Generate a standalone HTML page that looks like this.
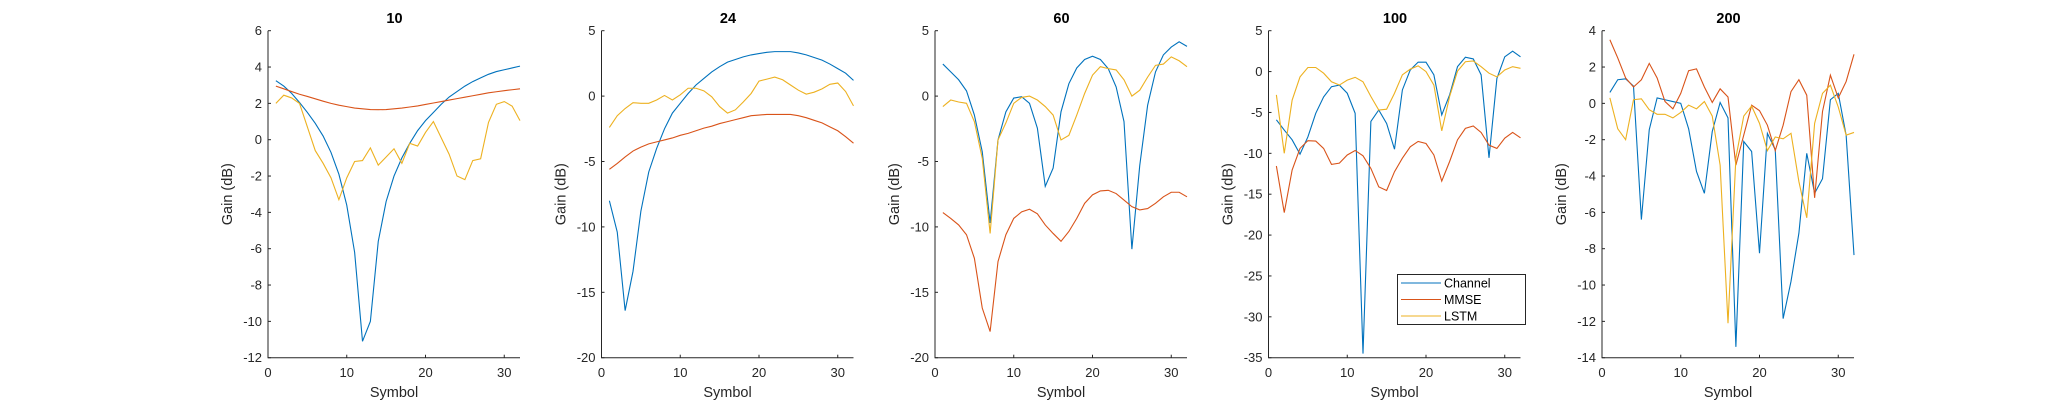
<!DOCTYPE html>
<html><head><meta charset="utf-8"><style>
body{margin:0;background:#fff;}
svg{display:block;font-family:"Liberation Sans",sans-serif;}
</style></head><body>
<svg id="chart" width="2050" height="402" viewBox="0 0 2050 402" xmlns="http://www.w3.org/2000/svg"></svg>
<script>
const symbols = Array.from({length:32},(_,i)=>i+1);
const titles = ["10","24","60","100","200"];
const yMins = [-12,-20,-20,-35,-14];
const yMaxs = [6,5,5,5,4];
const yStepTicks = [2,5,5,5,2];
const xTickLabels = [0,10,20,30];
const seriesNames = ["Channel","MMSE","LSTM"];
const ch10=[3.25,2.95,2.55,2.05,1.5,0.9,0.2,-0.7,-1.9,-3.6,-6.2,-11.1,-10.0,-5.6,-3.4,-2.0,-1.0,-0.2,0.5,1.05,1.5,1.95,2.35,2.65,2.95,3.2,3.4,3.6,3.75,3.85,3.95,4.05];
const mm10=[2.95,2.8,2.65,2.5,2.38,2.25,2.12,2.0,1.9,1.82,1.74,1.7,1.66,1.65,1.66,1.7,1.74,1.8,1.86,1.94,2.02,2.1,2.18,2.26,2.34,2.42,2.5,2.58,2.64,2.7,2.75,2.8];
const ls10=[2.0,2.45,2.3,2.0,0.7,-0.6,-1.3,-2.1,-3.3,-2.1,-1.2,-1.15,-0.45,-1.4,-0.95,-0.5,-1.3,-0.2,-0.35,0.4,1.0,0.1,-0.8,-2.0,-2.2,-1.15,-1.05,0.95,1.95,2.1,1.85,1.05];
const ch24=[-8.0,-10.4,-16.4,-13.4,-8.8,-5.8,-4.0,-2.5,-1.3,-0.55,0.2,0.85,1.35,1.85,2.25,2.6,2.8,3.0,3.15,3.25,3.35,3.4,3.4,3.4,3.3,3.15,2.95,2.75,2.45,2.1,1.75,1.2];
const mm24=[-5.6,-5.15,-4.65,-4.2,-3.9,-3.65,-3.5,-3.35,-3.2,-3.0,-2.85,-2.65,-2.45,-2.3,-2.1,-1.95,-1.8,-1.65,-1.5,-1.45,-1.4,-1.4,-1.4,-1.4,-1.5,-1.65,-1.85,-2.05,-2.35,-2.65,-3.1,-3.6];
const ls24=[-2.4,-1.5,-0.95,-0.5,-0.55,-0.55,-0.3,0.05,-0.3,0.1,0.6,0.6,0.4,-0.05,-0.8,-1.3,-1.05,-0.45,0.2,1.15,1.3,1.45,1.25,0.85,0.45,0.15,0.3,0.55,0.9,1.0,0.35,-0.75];
const ch60=[2.45,1.85,1.25,0.4,-1.45,-4.25,-9.7,-3.35,-1.2,-0.15,-0.05,-0.55,-2.45,-6.9,-5.5,-1.2,0.95,2.15,2.8,3.05,2.8,2.1,0.7,-1.95,-11.7,-5.3,-0.7,1.85,3.15,3.75,4.15,3.8];
const mm60=[-8.9,-9.35,-9.85,-10.6,-12.4,-16.2,-18.0,-12.65,-10.6,-9.35,-8.85,-8.65,-9.0,-9.85,-10.5,-11.1,-10.35,-9.35,-8.2,-7.55,-7.25,-7.2,-7.45,-7.95,-8.45,-8.7,-8.6,-8.2,-7.7,-7.35,-7.35,-7.7];
const ls60=[-0.8,-0.3,-0.45,-0.55,-1.95,-4.75,-10.5,-3.35,-2.05,-0.55,-0.1,0.0,-0.3,-0.8,-1.45,-3.35,-3.0,-1.45,0.2,1.6,2.25,2.1,2.0,1.25,0.0,0.45,1.45,2.35,2.45,3.0,2.7,2.25];
const ch100=[-5.9,-7.15,-8.35,-10.1,-8.0,-5.1,-3.1,-1.85,-1.65,-2.65,-5.1,-34.5,-6.1,-4.7,-6.35,-9.5,-2.25,0.2,1.15,1.15,-0.4,-5.3,-2.85,0.6,1.75,1.55,-0.4,-10.55,-0.85,1.8,2.5,1.8];
const mm100=[-11.55,-17.25,-12.05,-9.4,-8.45,-8.5,-9.4,-11.35,-11.2,-10.2,-9.65,-10.3,-11.85,-14.1,-14.55,-12.25,-10.6,-9.2,-8.55,-8.8,-10.2,-13.4,-11.0,-8.35,-6.95,-6.65,-7.45,-9.0,-9.4,-8.15,-7.45,-8.1];
const ls100=[-2.85,-10.0,-3.5,-0.65,0.5,0.5,-0.2,-1.25,-1.65,-1.05,-0.7,-1.25,-3.05,-4.7,-4.6,-2.65,-0.4,0.3,0.7,0.0,-1.65,-7.25,-3.05,0.05,1.2,1.3,0.6,-0.2,-0.65,0.2,0.6,0.4];
const ch200=[0.6,1.3,1.35,0.95,-6.4,-1.45,0.3,0.2,0.1,0.0,-1.4,-3.75,-4.95,-1.55,0.05,-0.8,-13.4,-2.1,-2.65,-8.25,-1.65,-2.55,-11.85,-9.8,-7.15,-2.75,-4.95,-4.15,0.2,0.55,-1.75,-8.35];
const mm200=[3.5,2.5,1.4,0.9,1.3,2.2,1.4,0.1,-0.3,0.55,1.8,1.9,0.9,0.05,0.8,0.35,-3.4,-1.75,-0.1,-0.4,-1.2,-2.6,-1.2,0.65,1.3,0.45,-5.2,-0.45,1.55,0.3,1.2,2.7];
const ls200=[0.3,-1.4,-2.0,0.2,0.25,-0.35,-0.6,-0.6,-0.8,-0.5,-0.1,-0.3,0.1,-0.7,-3.4,-12.1,-3.0,-0.7,-0.15,-1.1,-2.6,-1.85,-1.95,-1.65,-4.3,-6.3,-1.1,0.55,1.0,-0.2,-1.75,-1.6];
const panelSeries = [[ch10,mm10,ls10],[ch24,mm24,ls24],[ch60,mm60,ls60],[ch100,mm100,ls100],[ch200,mm200,ls200]];

const colors=["#0072BD","#D95319","#EDB120"];
const NS="http://www.w3.org/2000/svg";
const svg=document.getElementById('chart');
const lefts=[268,601.5,935,1268.5,1602];
const W=252, TOP=30.7, BOT=357.7;
function mk(tag,attrs,parent){const e=document.createElementNS(NS,tag);for(const k in attrs)e.setAttribute(k,attrs[k]);parent.appendChild(e);return e;}
panelSeries.forEach((ser,p)=>{
  const L=lefts[p];
  const xs=v=>L+v/32*W;
  const ys=v=>BOT-(v-yMins[p])/(yMaxs[p]-yMins[p])*(BOT-TOP);
  const g=mk('g',{},svg);
  
  
  ser.forEach((vals,s)=>{
    const d=vals.map((v,i)=>(i?'L':'M')+xs(symbols[i]).toFixed(2)+','+ys(v).toFixed(2)).join('');
    const path=mk('path',{d:d,fill:'none',stroke:colors[s],'stroke-width':1.1},g);
    
    
  });
  const ax=mk('path',{d:`M${L},${TOP}V${BOT}H${L+W}`,fill:'none',stroke:'#262626','stroke-width':1},g);
  
  
  for(let v=yMins[p];v<=yMaxs[p]+1e-9;v+=yStepTicks[p]){
    const y=ys(v);
    mk('line',{x1:L,x2:L+3,y1:y,y2:y,stroke:'#262626'},g);
    const t=mk('text',{x:L-6,y:y+4.5,'text-anchor':'end','font-size':13,fill:'#262626'},g);
    t.textContent=v;
    
    
  }
  xTickLabels.forEach(v=>{
    const x=xs(v);
    mk('line',{x1:x,x2:x,y1:BOT,y2:BOT-3,stroke:'#262626'},g);
    const t=mk('text',{x:x,y:377,'text-anchor':'middle','font-size':13,fill:'#262626'},g);
    t.textContent=v;
    
    
  });
  const tt=mk('text',{x:L+W/2+0.5,y:23,'text-anchor':'middle','font-size':14.5,'font-weight':'bold',fill:'#000'},g);
  tt.textContent=titles[p];
  
  
  const xl=mk('text',{x:L+W/2,y:397,'text-anchor':'middle','font-size':14.5,fill:'#262626'},g);
  xl.textContent='Symbol';
  
  
  const yl=mk('text',{x:0,y:0,'text-anchor':'middle','font-size':14.5,fill:'#262626',transform:`translate(${L-36},${(TOP+BOT)/2}) rotate(-90)`},g);
  yl.textContent='Gain (dB)';
  
  
});
// legend
const lg=mk('g',{},svg);


mk('rect',{x:1397.5,y:274.5,width:128,height:50,fill:'#fff',stroke:'#262626','stroke-width':1},lg);
seriesNames.forEach((n,i)=>{
  const y=283+i*16.5;
  const ln=mk('line',{x1:1401,x2:1441,y1:y,y2:y,stroke:colors[i],'stroke-width':1.1},lg);
  
  
  const t=mk('text',{x:1444,y:y+4.5,'font-size':12.5,fill:'#000'},lg);
  t.textContent=n;
  
  
});
</script>
</body></html>
